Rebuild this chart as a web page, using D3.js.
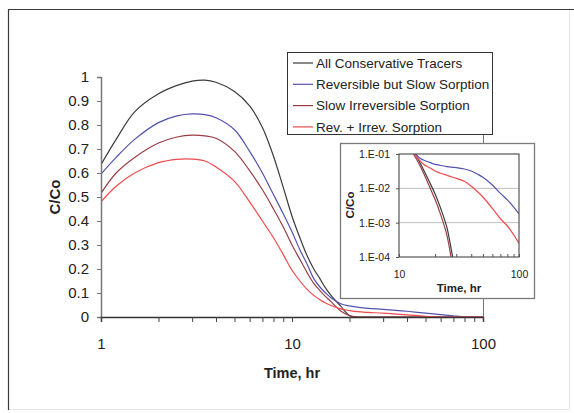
<!DOCTYPE html>
<html>
<head>
<meta charset="utf-8">
<script src="https://cdn.jsdelivr.net/npm/d3@7"></script>
<style>
    body { margin: 0; background: #fff; }
    svg { display: block; font-family: 'Liberation Sans', Arial, sans-serif; }
</style>
</head>
<body>
<script>
// main chart data (C/Co vs time, hr)
const times = [1, 1.2, 1.5, 2, 2.5, 3, 3.5, 4, 5, 6, 7, 8, 9, 10, 11, 12, 13, 14, 15, 16, 18, 20, 22, 25, 30, 35, 40, 50, 60, 70, 80, 90, 100];
const conservative = [0.635, 0.74, 0.855, 0.93, 0.965, 0.983, 0.987, 0.978, 0.94, 0.88, 0.79, 0.67, 0.54, 0.42, 0.33, 0.255, 0.2, 0.16, 0.12, 0.09, 0.045, 0.006, 0, 0, 0, 0, 0, 0, 0, 0, 0, 0, 0];
const reversible = [0.595, 0.665, 0.74, 0.81, 0.838, 0.846, 0.843, 0.83, 0.78, 0.69, 0.6, 0.51, 0.43, 0.355, 0.28, 0.22, 0.16, 0.125, 0.1, 0.08, 0.055, 0.046, 0.041, 0.036, 0.032, 0.028, 0.024, 0.016, 0.01, 0.005, 0.001, 0, 0];
const irreversible = [0.515, 0.6, 0.665, 0.725, 0.75, 0.758, 0.755, 0.745, 0.69, 0.61, 0.53, 0.45, 0.375, 0.3, 0.24, 0.185, 0.14, 0.11, 0.085, 0.064, 0.025, 0.005, 0, 0, 0, 0, 0, 0, 0, 0, 0, 0, 0];
const revIrrev = [0.48, 0.545, 0.6, 0.643, 0.657, 0.658, 0.65, 0.625, 0.565, 0.48, 0.4, 0.33, 0.26, 0.195, 0.15, 0.115, 0.09, 0.072, 0.058, 0.048, 0.034, 0.027, 0.022, 0.019, 0.016, 0.012, 0.009, 0.003, 0, 0, 0, 0, 0];

// inset data (log scale tail, t >= 10 hr)
const insetTimes = [10, 12, 13, 14, 15, 16, 18, 20, 22, 25, 28, 30, 35, 40, 45, 50, 60, 70, 80, 90, 100];
const insetConservative = [0.4, 0.2, 0.12, 0.085, 0.055, 0.035, 0.015, 0.0068, 0.0029, 0.00075, 0.0001, 0.00003, null, null, null, null, null, null, null, null, null];
const insetReversible = [0.35, 0.2, 0.14, 0.095, 0.075, 0.067, 0.057, 0.05, 0.047, 0.043, 0.041, 0.04, 0.0365, 0.032, 0.026, 0.021, 0.0125, 0.0071, 0.0046, 0.0029, 0.0018];
const insetIrreversible = [0.3, 0.18, 0.11, 0.07, 0.045, 0.028, 0.011, 0.0047, 0.0019, 0.00045, 0.00005, 0.00001, null, null, null, null, null, null, null, null, null];
const insetRevIrrev = [0.2, 0.13, 0.11, 0.085, 0.063, 0.05, 0.04, 0.032, 0.028, 0.024, 0.021, 0.0195, 0.016, 0.0115, 0.0081, 0.0056, 0.0026, 0.0013, 0.0008, 0.00045, 0.00025];

const seriesNames = ['All Conservative Tracers', 'Reversible but Slow Sorption', 'Slow Irreversible Sorption', 'Rev. + Irrev. Sorption'];
const seriesColors = ['#3c3c3c', '#5252b0', '#9a3e44', '#f04a4e'];
const mainSeries = [conservative, reversible, irreversible, revIrrev];
const insetSeries = [insetConservative, insetReversible, insetIrreversible, insetRevIrrev];

const xTicks = [1, 2, 3, 4, 5, 6, 7, 8, 9, 10, 20, 30, 40, 50, 60, 70, 80, 90, 100];
const yTicks = [0, 0.1, 0.2, 0.3, 0.4, 0.5, 0.6, 0.7, 0.8, 0.9, 1];
const insetXTicks = [10, 20, 30, 40, 50, 60, 70, 80, 90, 100];
const insetYTicks = [1e-4, 1e-3, 1e-2, 1e-1];
const insetYLabels = ['1.E-04', '1.E-03', '1.E-02', '1.E-01'];

const width = 574;
const height = 413;

const svg = d3.select('body')
    .append('svg')
    .attr('width', width)
    .attr('height', height);

// outer frame
svg.append('rect')
    .attr('x', 8.5).attr('y', 9.5)
    .attr('width', 561).attr('height', 400)
    .attr('fill', '#fff')
    .attr('stroke', '#e6e6e6');
svg.append('path')
    .attr('d', 'M8.5,410V9.5H574')
    .attr('fill', 'none')
    .attr('stroke', '#3a3a3a')
    .attr('stroke-width', 1.2);

// main chart
const x = d3.scaleLog().domain([1, 100]).range([101, 483]);
const y = d3.scaleLinear().domain([0, 1]).range([317, 77]);

svg.append('line')
    .attr('x1', 483.5).attr('x2', 483.5)
    .attr('y1', 77).attr('y2', 317)
    .attr('stroke', '#777');

svg.append('clipPath')
    .attr('id', 'main-clip')
    .append('rect')
    .attr('x', 101).attr('y', 60)
    .attr('width', 382).attr('height', 257);

const line = d3.line()
    .x((d, i) => x(times[i]))
    .y(d => y(d))
    .curve(d3.curveCatmullRom.alpha(0.5));

svg.append('g')
    .attr('clip-path', 'url(#main-clip)')
    .selectAll('path')
    .data(mainSeries)
    .join('path')
    .attr('d', line)
    .attr('fill', 'none')
    .attr('stroke', (d, i) => seriesColors[i])
    .attr('stroke-width', 1.2);

const yAxis = svg.append('g')
    .attr('transform', 'translate(101,0)')
    .call(d3.axisLeft(y)
        .tickValues(yTicks)
        .tickFormat(d => d === 0 ? '0' : d === 1 ? '1' : d.toFixed(1))
        .tickSize(4)
        .tickPadding(8));
yAxis.select('.domain').attr('stroke', '#777').attr('stroke-width', 1.5);
yAxis.selectAll('.tick line').attr('stroke', '#777');
yAxis.selectAll('text')
    .attr('font-size', 15)
    .attr('font-family', 'Liberation Sans, Arial, sans-serif')
    .attr('fill', '#222');

const xAxis = svg.append('g')
    .attr('transform', 'translate(0,317)')
    .call(d3.axisBottom(x)
        .tickValues(xTicks)
        .tickFormat(d => [1, 10, 100].includes(d) ? String(d) : '')
        .tickSize(5)
        .tickPadding(16));
xAxis.select('.domain').attr('stroke', '#333').attr('stroke-width', 1.5);
xAxis.selectAll('.tick line').attr('stroke', '#444');
xAxis.selectAll('text')
    .attr('font-size', 15)
    .attr('font-family', 'Liberation Sans, Arial, sans-serif')
    .attr('fill', '#222');

svg.append('text')
    .attr('x', 292).attr('y', 378)
    .attr('text-anchor', 'middle')
    .attr('font-size', 14.5)
    .attr('font-weight', 'bold')
    .attr('fill', '#222')
    .text('Time, hr');

svg.append('text')
    .attr('transform', 'translate(60,197) rotate(-90)')
    .attr('text-anchor', 'middle')
    .attr('font-size', 15)
    .attr('font-weight', 'bold')
    .attr('fill', '#222')
    .text('C/Co');

// legend
const legend = svg.append('g');
legend.append('rect')
    .attr('x', 287.5).attr('y', 52.5)
    .attr('width', 205).attr('height', 82)
    .attr('fill', '#fff')
    .attr('stroke', '#333');

const items = legend.selectAll('g.item')
    .data(seriesNames)
    .join('g')
    .attr('class', 'item')
    .attr('transform', (d, i) => `translate(0,${63 + i * 21.3})`);
items.append('line')
    .attr('x1', 293).attr('x2', 313)
    .attr('stroke', (d, i) => seriesColors[i])
    .attr('stroke-width', 1.2);
items.append('text')
    .attr('x', 316).attr('dy', '0.36em')
    .attr('font-size', 13.5)
    .attr('fill', '#222')
    .text(d => d);

// inset
const inset = svg.append('g');
inset.append('rect')
    .attr('x', 340.5).attr('y', 143.5)
    .attr('width', 194).attr('height', 155)
    .attr('fill', '#fff')
    .attr('stroke', '#7a7a7a')
    .attr('stroke-width', 1.3);

const ix = d3.scaleLog().domain([10, 100]).range([399, 519]);
const iy = d3.scaleLog().domain([1e-4, 1e-1]).range([257, 154]);

inset.selectAll('line.grid')
    .data([1e-3, 1e-2])
    .join('line')
    .attr('class', 'grid')
    .attr('x1', 399).attr('x2', 519)
    .attr('y1', d => iy(d)).attr('y2', d => iy(d))
    .attr('stroke', '#bdbdbd');

svg.append('clipPath')
    .attr('id', 'inset-clip')
    .append('rect')
    .attr('x', 399).attr('y', 154)
    .attr('width', 120).attr('height', 103);

const insetLine = d3.line()
    .defined(d => d !== null)
    .x((d, i) => ix(insetTimes[i]))
    .y(d => iy(d))
    .curve(d3.curveCatmullRom.alpha(0.5));

inset.append('g')
    .attr('clip-path', 'url(#inset-clip)')
    .selectAll('path')
    .data(insetSeries)
    .join('path')
    .attr('d', insetLine)
    .attr('fill', 'none')
    .attr('stroke', (d, i) => seriesColors[i])
    .attr('stroke-width', 1.2);

inset.append('rect')
    .attr('x', 399).attr('y', 154)
    .attr('width', 120).attr('height', 103)
    .attr('fill', 'none')
    .attr('stroke', '#555')
    .attr('stroke-width', 1.2);

const iyAxis = inset.append('g')
    .attr('transform', 'translate(399,0)')
    .call(d3.axisLeft(iy)
        .tickValues(insetYTicks)
        .tickFormat((d, i) => insetYLabels[i])
        .tickSize(3)
        .tickPadding(6));
iyAxis.select('.domain').remove();
iyAxis.selectAll('.tick line').attr('stroke', '#555');
iyAxis.selectAll('text')
    .attr('font-size', 10.5)
    .attr('font-family', 'Liberation Sans, Arial, sans-serif')
    .attr('fill', '#222');

const ixAxis = inset.append('g')
    .attr('transform', 'translate(0,257)')
    .call(d3.axisBottom(ix)
        .tickValues(insetXTicks)
        .tickFormat(d => d === 10 || d === 100 ? String(d) : '')
        .tickSize(-3)
        .tickPadding(13.5));
ixAxis.select('.domain').remove();
ixAxis.selectAll('.tick line').attr('stroke', '#555');
ixAxis.selectAll('text')
    .attr('font-size', 10.5)
    .attr('font-family', 'Liberation Sans, Arial, sans-serif')
    .attr('fill', '#222');

inset.append('text')
    .attr('x', 459).attr('y', 292)
    .attr('text-anchor', 'middle')
    .attr('font-size', 11.5)
    .attr('font-weight', 'bold')
    .attr('fill', '#222')
    .text('Time, hr');

inset.append('text')
    .attr('transform', 'translate(354,205) rotate(-90)')
    .attr('text-anchor', 'middle')
    .attr('font-size', 11.5)
    .attr('font-weight', 'bold')
    .attr('fill', '#222')
    .text('C/Co');
</script>
</body>
</html>
